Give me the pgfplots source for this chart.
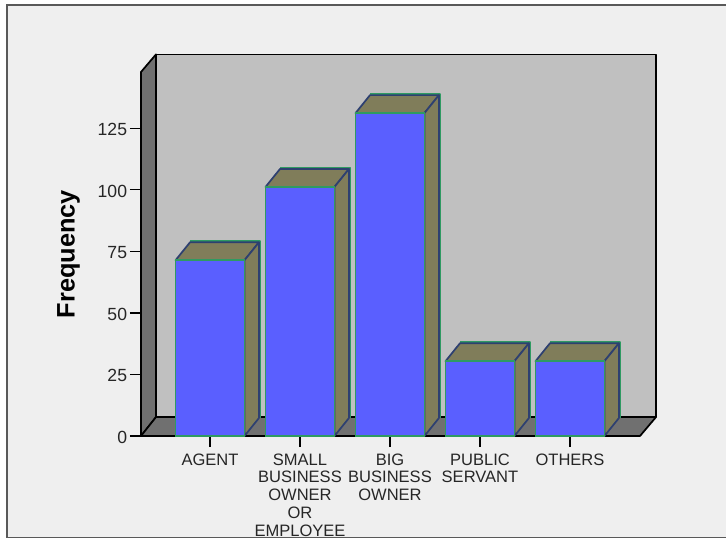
\documentclass[border=0pt]{standalone}
\usepackage{pgfplots}
\pgfplotsset{compat=1.18}
\usepackage{fontspec}
\setmainfont{Liberation Sans}
\definecolor{panel}{HTML}{EFEFEF}
\definecolor{wall}{HTML}{C0C0C0}
\definecolor{floorwall}{HTML}{707070}
\definecolor{barfront}{HTML}{5A5FFF}
\definecolor{barside}{HTML}{807D5A}
\definecolor{edgegreen}{HTML}{2F9A62}
\definecolor{edgenavy}{HTML}{2E4070}
\pgfplotstableread{
x   freq
0   71.4
1   101.2
2   131.2
3   30.4
4   30.4
}\freqtable
\tikzset{
  shell/.style={line width=1.3pt,draw=black,line join=round},
  barshade/.style={fill=barside,draw=edgenavy,line width=1.3pt,line join=round},
  barrim/.style={draw=edgegreen,line width=1.1pt,line join=round},
}
\begin{document}
\begin{tikzpicture}
\useasboundingbox (0,0) rectangle (544.5pt,405.75pt);
% panel behind the chart, open on its right side
\fill[panel] (5.25pt,2.6pt) rectangle (544.5pt,402pt);
\begin{axis}[
  at={(105.75pt,78.75pt)},anchor=south west,
  scale only axis,width=374.25pt,height=273pt,
  xmin=-0.7667,xmax=4.778,ymin=0,ymax=147.9,
  clip=false,
  axis line style={draw=none},
  tick align=outside,
  xtick pos=bottom,ytick pos=left,
  major tick length=8.25pt,
  tick style={black,line width=0.9pt},
  xtick={0,1,2,3,4},
  ytick={0,25,50,75,100,125},
  xticklabels={AGENT,{SMALL\\BUSINESS\\OWNER\\OR\\EMPLOYEE},{BIG\\BUSINESS\\OWNER},{PUBLIC\\SERVANT},OTHERS},
  xticklabel style={align=center,anchor=north,inner sep=0pt,yshift=-4.8pt,
    font=\fontsize{12.4}{13.3}\selectfont,text=black!85},
  yticklabel style={anchor=east,inner sep=0pt,xshift=-2pt,yshift=-0.8pt,
    font=\fontsize{13.2}{15}\selectfont,text=black!85},
  /pgf/number format/assume math mode=true,
  ylabel={Frequency},
  every axis y label/.style={at={(axis description cs:-0.1453,0.5)},rotate=90,anchor=center},
  ylabel style={font=\bfseries\fontsize{19}{21}\selectfont},
]
% chart shell: left wall, back wall, floor
\addplot[shell,fill=floorwall] coordinates {(-0.7667,0) (-0.6,7.7) (-0.6,155.06) (-0.7667,147.9)} -- cycle;
\addplot[shell,fill=wall] coordinates {(-0.6,7.7) (4.956,7.7) (4.956,155.06) (-0.6,155.06)} -- cycle;
\addplot[shell,fill=floorwall] coordinates {(-0.7667,0) (4.778,0) (4.956,7.7) (-0.6,7.7)} -- cycle;

% green rim just outside the top and side of every bar
\addplot[barrim] coordinates {(-0.222,79.2) (0.556,79.2) (0.556,7.5)};
\addplot[barrim] coordinates {(0.778,109.0) (1.556,109.0) (1.556,7.5)};
\addplot[barrim] coordinates {(1.778,139.0) (2.556,139.0) (2.556,7.5)};
\addplot[barrim] coordinates {(2.778,38.2) (3.556,38.2) (3.556,7.5)};
\addplot[barrim] coordinates {(3.778,38.2) (4.556,38.2) (4.556,7.5)};

% tops of the bars
\addplot[barshade] coordinates {(-0.383,71.4) (0.383,71.4) (0.544,78.7) (-0.222,78.7)} -- cycle;
\addplot[barshade] coordinates {(0.617,101.2) (1.383,101.2) (1.544,108.5) (0.778,108.5)} -- cycle;
\addplot[barshade] coordinates {(1.617,131.2) (2.383,131.2) (2.544,138.5) (1.778,138.5)} -- cycle;
\addplot[barshade] coordinates {(2.617,30.4) (3.383,30.4) (3.544,37.7) (2.778,37.7)} -- cycle;
\addplot[barshade] coordinates {(3.617,30.4) (4.383,30.4) (4.544,37.7) (3.778,37.7)} -- cycle;

% right-hand sides of the bars
\addplot[barshade] coordinates {(0.383,0) (0.544,7.3) (0.544,78.7) (0.383,71.4)} -- cycle;
\addplot[barshade] coordinates {(1.383,0) (1.544,7.3) (1.544,108.5) (1.383,101.2)} -- cycle;
\addplot[barshade] coordinates {(2.383,0) (2.544,7.3) (2.544,138.5) (2.383,131.2)} -- cycle;
\addplot[barshade] coordinates {(3.383,0) (3.544,7.3) (3.544,37.7) (3.383,30.4)} -- cycle;
\addplot[barshade] coordinates {(4.383,0) (4.544,7.3) (4.544,37.7) (4.383,30.4)} -- cycle;

% front faces
\addplot[ybar,bar width=0.766,bar shift=0pt,fill=barfront,draw=edgegreen,line width=1.4pt] table[x=x,y=freq] {\freqtable};
\end{axis}
% panel border, left open at the right edge of the page
\draw[black!65,line width=1.2pt] (544.5pt,402pt) -- (5.25pt,402pt) -- (5.25pt,2.6pt) -- (544.5pt,2.6pt);
\end{tikzpicture}
\end{document}
